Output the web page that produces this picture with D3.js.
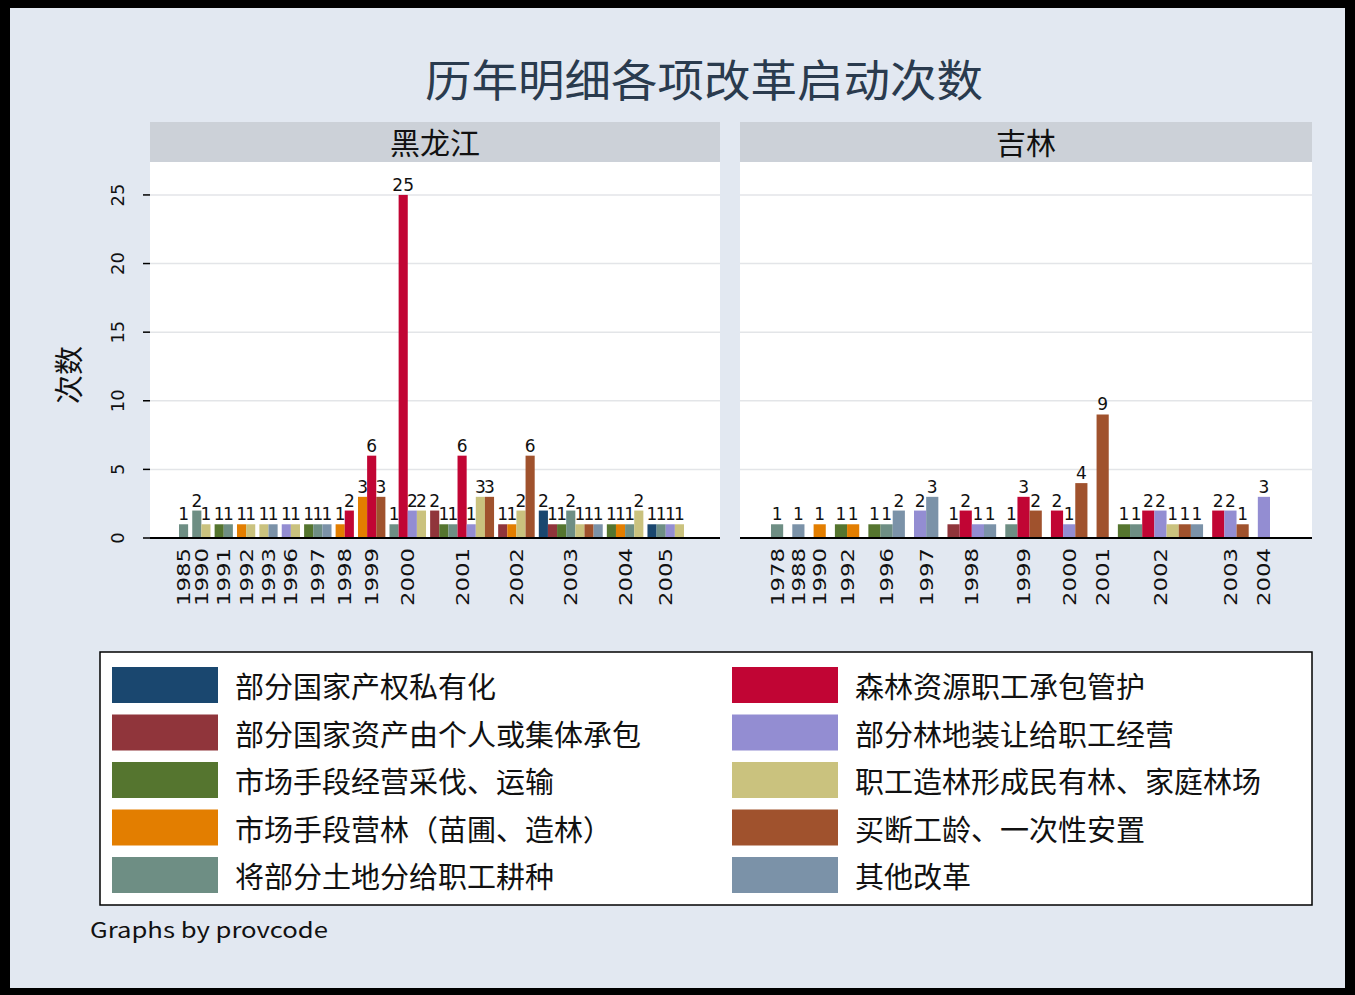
<!DOCTYPE html>
<html>
<head>
<meta charset="utf-8">
<script src="https://cdn.jsdelivr.net/npm/d3@7"></script>
<style>
  body { margin: 0; background: #000; }
  text { font-family: 'Noto Sans CJK SC', 'DejaVu Sans', sans-serif; }
  .num { font-family: 'DejaVu Sans', sans-serif; }
</style>
</head>
<body>
<script>
const width = 1355;
const height = 995;

const reforms = [
  '部分国家产权私有化',
  '部分国家资产由个人或集体承包',
  '市场手段经营采伐、运输',
  '市场手段营林（苗圃、造林）',
  '将部分土地分给职工耕种',
  '森林资源职工承包管护',
  '部分林地装让给职工经营',
  '职工造林形成民有林、家庭林场',
  '买断工龄、一次性安置',
  '其他改革'
];
const colors = ['#1a476f', '#90353b', '#55752f', '#e37e00', '#6e8e84',
  '#c10534', '#938dd2', '#cac27e', '#a0522d', '#7b92a8'];

const panels = ['黑龙江', '吉林'];

// [year, reform (1-10), count]
const heilongjiang = [
  [1985, 5, 1],
  [1990, 5, 2], [1990, 8, 1],
  [1991, 3, 1], [1991, 5, 1],
  [1992, 4, 1], [1992, 8, 1],
  [1993, 8, 1], [1993, 10, 1],
  [1996, 7, 1], [1996, 8, 1],
  [1997, 3, 1], [1997, 5, 1], [1997, 10, 1],
  [1998, 4, 1], [1998, 6, 2],
  [1999, 4, 3], [1999, 6, 6], [1999, 9, 3],
  [2000, 5, 1], [2000, 6, 25], [2000, 7, 2], [2000, 8, 2],
  [2001, 2, 2], [2001, 3, 1], [2001, 5, 1], [2001, 6, 6], [2001, 7, 1], [2001, 8, 3], [2001, 9, 3],
  [2002, 2, 1], [2002, 4, 1], [2002, 8, 2], [2002, 9, 6],
  [2003, 1, 2], [2003, 2, 1], [2003, 3, 1], [2003, 5, 2], [2003, 8, 1], [2003, 9, 1], [2003, 10, 1],
  [2004, 3, 1], [2004, 4, 1], [2004, 5, 1], [2004, 8, 2],
  [2005, 1, 1], [2005, 5, 1], [2005, 7, 1], [2005, 8, 1]
];

const jilin = [
  [1978, 5, 1],
  [1988, 10, 1],
  [1990, 4, 1],
  [1992, 3, 1], [1992, 4, 1],
  [1996, 3, 1], [1996, 5, 1], [1996, 10, 2],
  [1997, 7, 2], [1997, 10, 3],
  [1998, 2, 1], [1998, 6, 2], [1998, 7, 1], [1998, 10, 1],
  [1999, 5, 1], [1999, 6, 3], [1999, 9, 2],
  [2000, 6, 2], [2000, 7, 1], [2000, 9, 4],
  [2001, 9, 9],
  [2002, 3, 1], [2002, 5, 1], [2002, 6, 2], [2002, 7, 2], [2002, 8, 1], [2002, 9, 1], [2002, 10, 1],
  [2003, 6, 2], [2003, 7, 2], [2003, 9, 1],
  [2004, 7, 3]
];

const yTicks = [0, 5, 10, 15, 20, 25];

const svg = d3.select('body')
  .append('svg')
  .attr('width', width)
  .attr('height', height);

svg.append('rect')
  .attr('x', 10).attr('y', 8)
  .attr('width', 1335).attr('height', 980)
  .attr('fill', '#e2e8f1');

// title
svg.append('text')
  .attr('x', 704).attr('y', 78)
  .attr('text-anchor', 'middle')
  .attr('dominant-baseline', 'central')
  .attr('font-size', 44)
  .attr('fill', '#2a3b4e')
  .attr('textLength', 558)
  .attr('lengthAdjust', 'spacingAndGlyphs')
  .text('历年明细各项改革启动次数');

const plotTop = 162;
const plotBottom = 538;
const y = d3.scaleLinear().domain([0, 27.4]).range([plotBottom, plotTop]);

function drawPanel(data, title, x0, x1, gap, pad, showAxis) {
  const g = svg.append('g');
  const years = [...new Set(data.map(d => d[0]))];
  const bars = [];
  const centers = [];
  let u = 0;
  years.forEach((yr, gi) => {
    if (gi > 0) u += gap;
    const start = u;
    data.filter(d => d[0] === yr).forEach(d => {
      bars.push({ year: yr, reform: d[1], value: d[2], u });
      u += 1;
    });
    centers.push({ year: yr, u: (start + u) / 2 });
  });
  const x = d3.scaleLinear().domain([0, u]).range([x0 + pad[0], x1 - pad[1]]);
  const bw = x(1) - x(0);

  // strip header
  g.append('rect')
    .attr('x', x0).attr('y', 122)
    .attr('width', x1 - x0).attr('height', 40)
    .attr('fill', '#ccd1d8');
  g.append('text')
    .attr('x', (x0 + x1) / 2).attr('y', 141)
    .attr('text-anchor', 'middle')
    .attr('dominant-baseline', 'central')
    .attr('font-size', 30)
    .attr('fill', '#111')
    .text(title);

  g.append('rect')
    .attr('x', x0).attr('y', plotTop)
    .attr('width', x1 - x0).attr('height', plotBottom - plotTop)
    .attr('fill', '#fff');

  g.selectAll('.grid')
    .data(yTicks.slice(1))
    .enter()
    .append('line')
    .attr('x1', x0).attr('x2', x1)
    .attr('y1', d => y(d)).attr('y2', d => y(d))
    .attr('stroke', '#e3e5e8')
    .attr('stroke-width', 1.5);

  g.selectAll('.bar')
    .data(bars)
    .enter()
    .append('rect')
    .attr('x', d => x(d.u))
    .attr('width', bw)
    .attr('y', d => y(d.value))
    .attr('height', d => y(0) - y(d.value))
    .attr('fill', d => colors[d.reform - 1]);

  g.selectAll('.vlab')
    .data(bars)
    .enter()
    .append('text')
    .attr('class', 'num')
    .attr('x', d => x(d.u) + bw / 2)
    .attr('y', d => y(d.value) - 4)
    .attr('text-anchor', 'middle')
    .attr('font-size', 17)
    .attr('fill', '#111')
    .text(d => d.value);

  g.append('line')
    .attr('x1', x0).attr('x2', x1)
    .attr('y1', plotBottom).attr('y2', plotBottom)
    .attr('stroke', '#000')
    .attr('stroke-width', 2);

  g.selectAll('.xlab')
    .data(centers)
    .enter()
    .append('text')
    .attr('class', 'num')
    .attr('transform', d => `translate(${x(d.u)},548) rotate(-90)`)
    .attr('text-anchor', 'end')
    .attr('dy', '0.36em')
    .attr('font-size', 18)
    .attr('fill', '#111')
    .attr('textLength', 58)
    .attr('lengthAdjust', 'spacingAndGlyphs')
    .text(d => d.year);

  if (showAxis) {
    g.selectAll('.ytick')
      .data(yTicks)
      .enter()
      .append('line')
      .attr('x1', x0 - 7).attr('x2', x0)
      .attr('y1', d => y(d)).attr('y2', d => y(d))
      .attr('stroke', '#000')
      .attr('stroke-width', 1.5);
    g.selectAll('.ylab')
      .data(yTicks)
      .enter()
      .append('text')
      .attr('class', 'num')
      .attr('transform', d => `translate(124,${y(d)}) rotate(-90)`)
      .attr('text-anchor', 'middle')
      .attr('font-size', 18)
      .attr('fill', '#111')
      .text(d => d);
    svg.append('text')
      .attr('transform', 'translate(80,375) rotate(-90)')
      .attr('text-anchor', 'middle')
      .attr('font-size', 29)
      .attr('fill', '#111')
      .text('次数');
  }
}

drawPanel(heilongjiang, panels[0], 150, 720, 0.45, [29, 36], true);
drawPanel(jilin, panels[1], 740, 1312, 0.75, [31, 42], false);

// legend
const legend = svg.append('g');
legend.append('rect')
  .attr('x', 100).attr('y', 652)
  .attr('width', 1212).attr('height', 253)
  .attr('fill', '#fff')
  .attr('stroke', '#000')
  .attr('stroke-width', 1.5);

const item = legend.selectAll('.item')
  .data(reforms)
  .enter()
  .append('g')
  .attr('transform', (d, i) => `translate(${i < 5 ? 112 : 732},${685 + (i % 5) * 47.5})`);
item.append('rect')
  .attr('x', 0).attr('y', -18)
  .attr('width', 106).attr('height', 36)
  .attr('fill', (d, i) => colors[i]);
item.append('text')
  .attr('x', 123)
  .attr('dominant-baseline', 'central')
  .attr('font-size', 29)
  .attr('fill', '#111')
  .text(d => d);

svg.append('text')
  .attr('x', 90).attr('y', 938)
  .attr('font-family', 'Liberation Sans, Arial, sans-serif')
  .attr('font-size', 21)
  .attr('fill', '#111')
  .attr('textLength', 238)
  .attr('lengthAdjust', 'spacingAndGlyphs')
  .text('Graphs by provcode');
</script>
</body>
</html>
